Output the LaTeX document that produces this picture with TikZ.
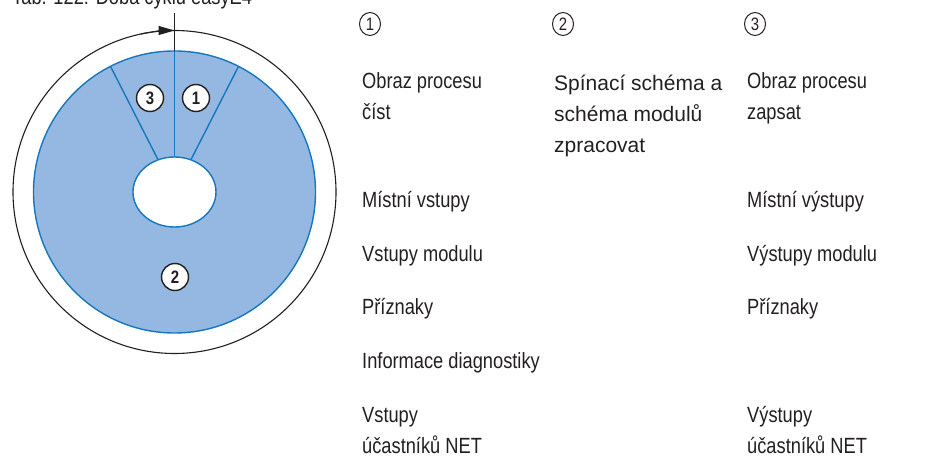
\documentclass[tikz,border=0pt]{standalone}
\usepackage{fontspec}
\setmainfont{Liberation Sans}
\newfontfamily\cond{Liberation Sans}[FakeStretch=0.83]
\usetikzlibrary{arrows.meta,calc,shapes.geometric}
\definecolor{ringfill}{HTML}{94B8E1}
\definecolor{ringline}{HTML}{1578BE}
\definecolor{ink}{HTML}{231F20}
\begin{document}
\begin{tikzpicture}[x=1pt,y=-1pt,
  legtext/.style={anchor=base west,inner sep=0pt,align=left,font=\fontsize{22}{31}\cond,text=ink},
  midtext/.style={anchor=base west,inner sep=0pt,align=left,font=\fontsize{21}{31}\selectfont,text=ink},
  badge/.style={circle,draw=ink,line width=1.4pt,fill=white,minimum size=27pt,inner sep=0pt,font=\fontsize{18}{18}\cond\bfseries,text=ink},
  legbadge/.style={ellipse,draw=ink,line width=1pt,minimum width=21pt,minimum height=23pt,inner sep=0pt,font=\fontsize{18}{18}\cond,text=ink},
  ring/.style={draw=ringline,line width=1.4pt},
  outer/.style={draw=ink,line width=1.1pt}]
\useasboundingbox (0,0) rectangle (927,457);

% title (clipped at top)
\node[anchor=base west,inner sep=0pt,font=\fontsize{22}{26}\cond,text=ink] (title) at (12,5) {Tab. 122: Doba cyklu easyE4};

% diagram
\coordinate (C) at (174.5,192);
\draw[outer] (C) circle[radius=161.5];
\draw[ring,fill=ringfill] (C) circle[radius=141];
\draw[ring,fill=white] (C) ellipse[x radius=41.5,y radius=35];
\coordinate (rIn)  at ($(C)+(-63:36.1)$);
\coordinate (rOut) at ($(C)+(-63:141)$);
\coordinate (lIn)  at ($(C)+(-117:36.1)$);
\coordinate (lOut) at ($(C)+(-117:141)$);
\coordinate (mIn)  at ($(C)+(-90:35)$);
\coordinate (mOut) at ($(C)+(-90:141)$);
\draw[ring] (rIn) -- (rOut);
\draw[ring] (lIn) -- (lOut);
\draw[ring] (mIn) -- (mOut);

\coordinate (tickTop) at (174.5,13);
\draw[ink,line width=1.4pt] (tickTop) -- (mOut);
\coordinate (arcStart) at ($(C)+(-102:161.5)$);
\draw[outer,-{Triangle[length=16pt,width=9pt]}] (arcStart) arc[start angle=-102,end angle=-90,radius=161.5];

\node[badge] (b3) at (150,98) {3};
\node[badge] (b1) at (196,98) {1};
\node[badge] (b2) at (175,277) {2};

% legend
\node[legbadge] (n1) at (370,24) {1};
\node[legbadge] (n2) at (563,24) {2};
\node[legbadge] (n3) at (755,24) {3};

\node[legtext] (l1) at (362,120) {Obraz procesu\\číst};
\node[midtext] (m1) at (554,153) {Spínací schéma a\\schéma modulů\\zpracovat};
\node[legtext] (r1) at (747,120) {Obraz procesu\\zapsat};

\node[legtext] (l2) at (362,208) {Místní vstupy};
\node[legtext] (l3) at (362,262) {Vstupy modulu};
\node[legtext] (l4) at (362,315) {Příznaky};
\node[legtext] (l5) at (362,368) {Informace diagnostiky};
\node[legtext] (l6) at (362,453) {Vstupy\\účastníků NET};

\node[legtext] (r2) at (747,208) {Místní výstupy};
\node[legtext] (r3) at (747,262) {Výstupy modulu};
\node[legtext] (r4) at (747,315) {Příznaky};
\node[legtext] (r6) at (747,453) {Výstupy\\účastníků NET};
\end{tikzpicture}
\end{document}
